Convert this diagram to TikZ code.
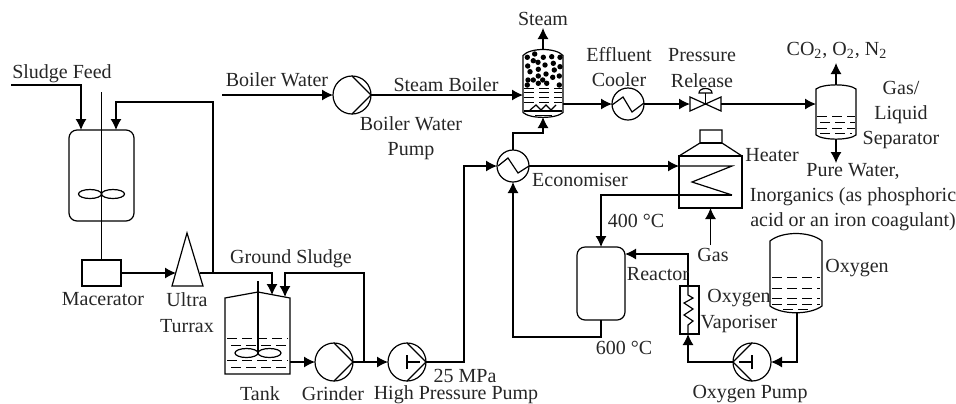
\documentclass[tikz,border=0pt]{standalone}
\usepackage{fontspec}
\setmainfont{Liberation Serif}
\usetikzlibrary{arrows.meta}

\begin{document}
\begin{tikzpicture}[x=0.5pt,y=-0.5pt,line width=0.6pt,
  lbl/.style={inner sep=0pt,font=\fontsize{10}{12.6}\selectfont,align=center,text=black!85},
  flow/.style={draw,-{Latex[length=5.5pt,width=5.5pt]}},
  pipe/.style={draw},
  unit/.style={draw,inner sep=0pt,outer sep=0pt,fill=white},
  pump/.style={unit,circle,minimum size=19pt},
  exch/.style={unit,circle,minimum size=16pt},
  vessel/.style={inner sep=0pt,outer sep=0pt},
  liquid/.style={dash pattern=on 5pt off 2.5pt,line width=0.5pt}]
\useasboundingbox (0,0) rectangle (956,403);
% mixing vessel and macerator
\node [unit,rounded corners=4pt,minimum width=32.5pt,minimum height=45.5pt] (mixer) at (101.5,175.5) {};
\node [unit,minimum width=19.5pt,minimum height=13pt] (macerator) at (101.5,273) {};
\coordinate (feed) at (11,85);
\coordinate (mixerinA) at (81,130);
\coordinate (mixerinB) at (116,130);
\coordinate (retbend) at (116,102);
\coordinate (mixshaft) at (101.5,92);
\draw [pipe] (mixshaft) -- (macerator.north);
\draw (90,194) ellipse [x radius=11.5,y radius=4.5];
\draw (113,194) ellipse [x radius=11.5,y radius=4.5];
\draw [flow] (feed) -| (mixerinA);
% ultra turrax
\coordinate (turtop) at (187,233);
\coordinate (turleft) at (172,286);
\coordinate (turright) at (203,286);
\coordinate (turin) at (176,273);
\coordinate (turout) at (199.5,273);
\coordinate (turjoin) at (213,273);
\draw (turtop) -- (turleft) -- (turright) -- cycle;
\draw [flow] (macerator.east) -- (turin);
\draw [flow] (turjoin) |- (retbend) -- (mixerinB);
% tank
\coordinate (tankinA) at (272,295);
\coordinate (tankinB) at (285,297);
\coordinate (tankout) at (290,362);
\coordinate (tankshaft) at (258,281);
\coordinate (tankhub) at (258,353);
\draw (225,298) -- (258,292) -- (290,298) -- (290,374) -- (225,374) -- cycle;
\draw [pipe] (tankshaft) -- (tankhub);
\draw (246.5,353) ellipse [x radius=11.5,y radius=4.5];
\draw (269.5,353) ellipse [x radius=11.5,y radius=4.5];
\draw [liquid] (227,338) -- (288,338);
\draw [liquid] (231,345) -- (288,345);
\draw [liquid] (227,360) -- (288,360);
\draw [liquid] (231,367) -- (288,367);
\draw [flow] (turout) -| (tankinA);
% grinder and high pressure pump
\node [pump] (grinder) at (334,362) {};
\node [pump] (hppump) at (407,362) {};
\coordinate (grindjoin) at (364,362);
\coordinate (recyclebend) at (285,273);
\coordinate (econbend) at (464,362);
\draw (grinder.north) -- (grinder.east) -- (grinder.south);
\draw (hppump.north) -- (hppump.east) -- (hppump.south);
\draw (407,355) -- (407,369);
\draw (407,362) -- (420,362);
\draw [flow] (tankout) -- (grinder.west);
\draw [flow] (grinder.east) -- (hppump.west);
\draw [flow] (grindjoin) |- (recyclebend) -- (tankinB);
% economiser
\node [exch] (econ) at (513,166) {};
\draw (498,166) -- (508,158) -- (518,173) -- (529,166);
\coordinate (boilerbend) at (513,133);
\draw [flow] (hppump.east) -| (econbend) |- (econ.west);
% boiler water and steam boiler
\node [pump] (bwpump) at (352,95) {};
\node [vessel,minimum width=20pt,minimum height=28.5pt] (boiler) at (543,84) {};
\coordinate (bwfeed) at (222,95);
\coordinate (boilerin) at (523,95);
\coordinate (boilerout) at (563,104);
\coordinate (boilerbot) at (543,117);
\coordinate (boilertop) at (543,49);
\coordinate (steamout) at (543,28);
\draw (bwpump.north) -- (bwpump.east) -- (bwpump.south);
\draw (523,112.5) -- (523,55.5) .. controls (530,47.5) and (556,47.5) .. (563,55.5) -- (563,112.5) .. controls (556,119) and (530,119) .. (523,112.5);
\foreach \dx/\dy in {534.7/54,543.3/57.3,551.7/56.7,560/57.3,527.3/57.3,527.7/66,533.3/60.7,538/62.3,545/65,553.3/63.3,560/66.7,530/71.7,538.3/69.3,546/74,554.3/70,559.3/76,528/80,533.3/80,538.3/76,546.7/83.3,552.7/77.3,527.3/85,538.3/83.3,542.7/80,559.3/85}
  \fill (\dx,\dy) circle [radius=2.7];
\draw [liquid] (524,88) -- (562,88);
\draw [liquid] (524,92.5) -- (562,92.5);
\draw [liquid] (524,97) -- (562,97);
\draw [liquid] (524,102.5) -- (562,102.5);
\draw (530,110) -- (536,105) -- (541,110) -- (546,105) -- (551,110) -- (556,105);
\draw (524,111) -- (562,111);
\draw [line width=0.5pt] (535,115) -- (552,115);
\draw [flow] (bwfeed) -- (bwpump.west);
\draw [flow] (bwpump.east) -- (boilerin);
\draw [flow] (boilertop) -- (steamout);
\draw [flow] (econ.north) |- (boilerbend) -| (boilerbot);
% effluent cooler and valve
\node [exch] (cooler) at (628,104) {};
\draw (612,105) -- (623,97) -- (632,112) -- (644,103);
\node [vessel,minimum width=15.5pt,minimum height=7pt] (valve) at (705.5,104) {};
\draw (690,97) -- (721,111) -- (721,97) -- (690,111) -- cycle;
\draw (705.5,104) -- (705.5,93);
\draw (699,93) .. controls (699,87) and (712,87) .. (712,93) -- cycle;
\draw [flow] (boilerout) -- (cooler.west);
\draw [flow] (cooler.east) -- (valve.west);
% gas/liquid separator
\coordinate (sepin) at (816,104);
\coordinate (septop) at (836,85);
\coordinate (sepgas) at (836,63);
\coordinate (sepbot) at (836,139);
\coordinate (sepliq) at (836,163);
\draw (816,135) -- (816,89) .. controls (823,83.5) and (849,83.5) .. (856,89) -- (856,135) .. controls (849,140.5) and (823,140.5) .. (816,135);
\draw [liquid] (817,116) -- (855,116);
\draw [liquid] (820,122) -- (855,122);
\draw [liquid] (817,128) -- (855,128);
\draw [liquid] (820,133.5) -- (852,133.5);
\draw [flow] (valve.east) -- (sepin);
\draw [flow] (septop) -- (sepgas);
\draw [flow] (sepbot) -- (sepliq);
% heater and reactor
\node [unit,minimum width=31.5pt,minimum height=26pt] (heater) at (710.5,182) {};
\node [unit,rounded corners=4pt,minimum width=24pt,minimum height=36.5pt] (reactor) at (601,283.5) {};
\coordinate (heaterin) at (679,166);
\coordinate (coilA) at (732,166);
\coordinate (coilB) at (692,182);
\coordinate (coilC) at (732,195);
\coordinate (gasin) at (710.5,245);
\coordinate (reacbend) at (513,337);
\draw (679,156) -- (700,143) -- (700,130) -- (722,130) -- (722,143) -- (742,156);
\draw (700,143) -- (722,143);
\draw (679,156) -- (742,156);
\draw [flow] (econ.east) -- (heaterin);
\draw (heaterin) -- (coilA) -- (coilB) -- (coilC);
\draw [flow] (coilC) -| (reactor.north);
\draw [flow] (gasin) -- (heater.south);
\draw [flow] (reactor.south) |- (reacbend) -- (econ.south);
% oxygen line
\node [unit,minimum width=9.5pt,minimum height=24pt] (vaporiser) at (689.5,310) {};
\node [pump] (o2pump) at (752,362) {};
\coordinate (vapin) at (688,334);
\coordinate (vapout) at (688,286);
\coordinate (vapbend) at (688,362);
\coordinate (reacin) at (625,254);
\coordinate (o2out) at (797,312);
\coordinate (o2bend) at (797,362);
\draw (o2pump.north) -- (o2pump.west) -- (o2pump.south);
\draw (752,355) -- (752,369);
\draw (739,362) -- (752,362);
\draw (688,286) -- (688,295) -- (693,298) -- (684,303) -- (693,309) -- (684,315) -- (693,321) -- (688,325) -- (688,334);
\draw (770,306) -- (770,241) .. controls (782,231) and (810,231) .. (822,241) -- (822,306) .. controls (810,315) and (782,315) .. (770,306);
\draw [liquid] (772,277) -- (820,277);
\draw [liquid] (772,288) -- (820,288);
\draw [liquid] (772,298) -- (820,298);
\draw [liquid] (772,304) -- (820,304);
\draw [liquid] (783,309) -- (812,309);
\draw [flow] (vapout) |- (reacin);
\draw [flow] (o2out) -- (o2bend) -- (o2pump.east);
\draw [flow] (o2pump.west) -- (vapbend) -- (vapin);
% labels
\node [lbl] (tsludge) at (62,74) {Sludge Feed};
\node [lbl] (tmacerator) at (103,299) {Macerator};
\node [lbl] (tturrax) at (187,313) {Ultra\\[0.4pt]Turrax};
\node [lbl] (tground) at (291,259) {Ground Sludge};
\node [lbl] (ttank) at (260,394) {Tank};
\node [lbl] (tgrinder) at (333,394) {Grinder};
\node [lbl] (thppump) at (456,395) {High Pressure Pump};
\node [lbl] (tmpa) at (465,376) {25 MPa};
\node [lbl] (tbw) at (277,80) {Boiler Water};
\node [lbl] (tboiler) at (446,85) {Steam Boiler};
\node [lbl] (tbwpump) at (411,138) {Boiler Water\\Pump};
\node [lbl] (tsteam) at (543,19) {Steam};
\node [lbl] (tcooler) at (619,67) {Effluent\\Cooler};
\node [lbl] (trelease) at (702,68) {Pressure\\Release};
\node [lbl] (tecon) at (580,180) {Economiser};
\node [lbl] (theater) at (772,155) {Heater};
\node [lbl] (tco) at (837,50) {CO\textsubscript{2}, O\textsubscript{2}, N\textsubscript{2}};
\node [lbl] (tsep) at (901,115) {Gas/\\Liquid\\Separator};
\node [lbl] (tpure) at (853,197) {Pure Water,\\Inorganics (as phosphoric\\acid or an iron coagulant)};
\node [lbl] (t400) at (636,221) {400 °C};
\node [lbl] (tgas) at (713,255) {Gas};
\node [lbl] (treactor) at (658,274) {Reactor};
\node [lbl] (tvap) at (739,311) {Oxygen\\Vaporiser};
\node [lbl] (toxygen) at (857,268) {Oxygen};
\node [lbl] (t600) at (624,348) {600 °C};
\node [lbl] (to2pump) at (750,394) {Oxygen Pump};
\end{tikzpicture}
\end{document}
